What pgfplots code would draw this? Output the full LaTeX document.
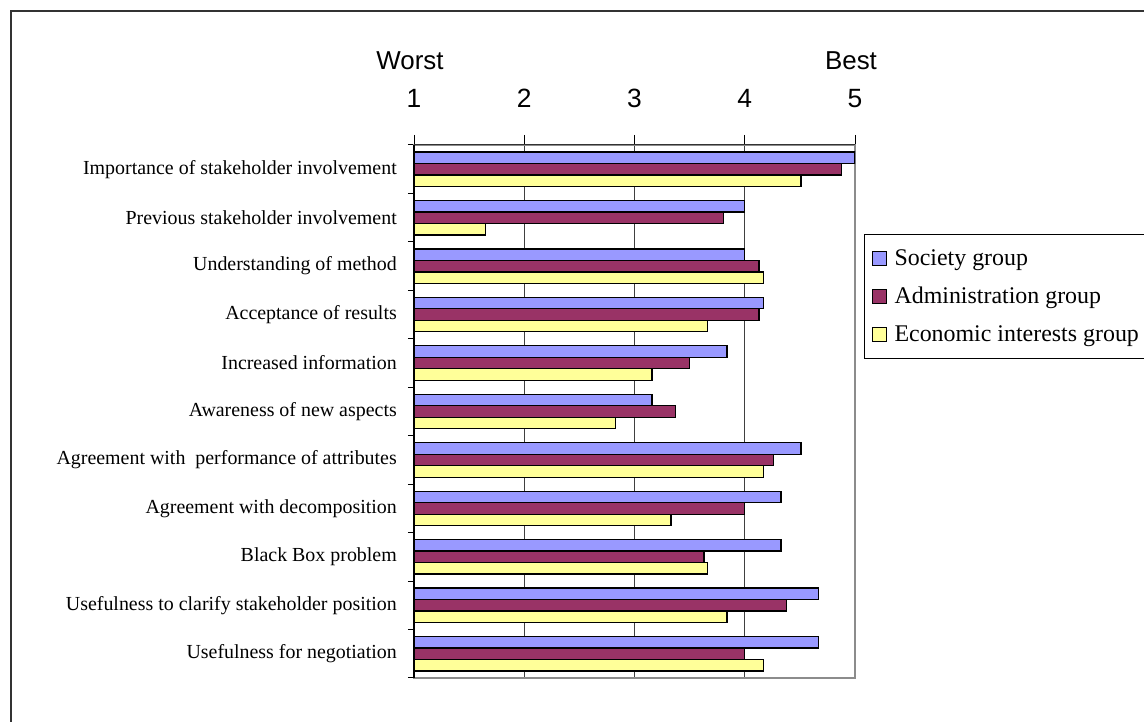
\documentclass[border=0pt]{standalone}
\usepackage{fontspec}
\setmainfont{Liberation Serif}
\newfontfamily\arial{Liberation Sans}
\usepackage{pgfplots}
\pgfplotsset{compat=1.18}

\definecolor{society}{HTML}{9999FF}
\definecolor{admin}{HTML}{993366}
\definecolor{econ}{HTML}{FFFF99}

\begin{document}
\begin{tikzpicture}
\useasboundingbox (0,0) rectangle (1144bp,722bp);
\draw[line width=1.5bp, black!80] (11bp,0) -- (11bp,711bp) -- (1150bp,711bp);
\begin{axis}[
    at={(414bp,44bp)}, anchor=south west,
    scale only axis,
    width=441bp, height=533bp,
    xbar, bar width=11.5bp,
    xmin=1, xmax=5,
    ymin=-0.5, ymax=10.5,
    xtick={1,2,3,4,5},
    xtick pos=upper, xticklabel pos=upper,
    /pgf/number format/assume math mode=true,
    xticklabel style={font=\arial\fontsize{26.5}{30}\selectfont, anchor=base, inner sep=0pt, yshift=27bp},
    ytick={0,...,10},
    yticklabels={
        Usefulness for negotiation,
        Usefulness to clarify stakeholder position,
        Black Box problem,
        Agreement with decomposition,
        Agreement with\ \ performance of attributes,
        Awareness of new aspects,
        Increased information,
        Acceptance of results,
        Understanding of method,
        Previous stakeholder involvement,
        Importance of stakeholder involvement},
    yticklabel style={font=\fontsize{20}{24}\selectfont, anchor=east, inner sep=0pt, xshift=-7bp},
    ytick pos=left,
    minor ytick={-0.5,0.5,1.5,2.5,3.5,4.5,5.5,6.5,7.5,8.5,9.5,10.5},
    major y tick style={draw=none},
    minor y tick style={draw=black, line width=1bp},
    major x tick style={draw=black, line width=1bp},
    tick align=outside,
    major tick length=10bp, minor tick length=6bp,
    xmajorgrids, grid style={black!75, line width=0.9bp},
    axis line style={black!45, line width=1.4bp},
    clip mode=individual,
    legend style={at={(1.0204,0.833)}, anchor=north west, draw=black, line width=0.8bp,
        font=\fontsize{24}{28}\selectfont, row sep=16.5bp, inner xsep=8bp, inner ysep=13bp,
        cells={anchor=west}},
    legend image code/.code={\draw[#1, line width=1bp] (0bp,-7bp) rectangle (14bp,7bp); \path (19bp,0bp);},
]
\addplot[fill=society, draw=black, line width=1.3bp, bar shift=11.5bp] coordinates {
    (4.67,0) (4.67,1) (4.33,2) (4.33,3) (4.51,4) (3.16,5) (3.84,6) (4.17,7) (4.00,8) (4.00,9) (5.00,10)
};
\addlegendentry{Society group}
\addplot[fill=admin, draw=black, line width=1.3bp, bar shift=0bp] coordinates {
    (4.00,0) (4.38,1) (3.63,2) (4.00,3) (4.26,4) (3.37,5) (3.50,6) (4.13,7) (4.13,8) (3.81,9) (4.88,10)
};
\addlegendentry{Administration group}
\addplot[fill=econ, draw=black, line width=1.3bp, bar shift=-11.5bp] coordinates {
    (4.17,0) (3.84,1) (3.66,2) (3.33,3) (4.17,4) (2.83,5) (3.16,6) (3.66,7) (4.17,8) (1.65,9) (4.51,10)
};
\addlegendentry{Economic interests group}
\draw[black, line width=1.2bp] (rel axis cs:0,0) -- (rel axis cs:0,1);
\draw[black!80, line width=1bp] (rel axis cs:0,1) -- (rel axis cs:1,1);
\node[font=\arial\fontsize{26}{30}\selectfont, anchor=base, xshift=-4bp, yshift=75bp] at (rel axis cs:0,1) {Worst};
\node[font=\arial\fontsize{26}{30}\selectfont, anchor=base, xshift=-4bp, yshift=75bp] at (rel axis cs:1,1) {Best};
\end{axis}
\end{tikzpicture}
\end{document}
